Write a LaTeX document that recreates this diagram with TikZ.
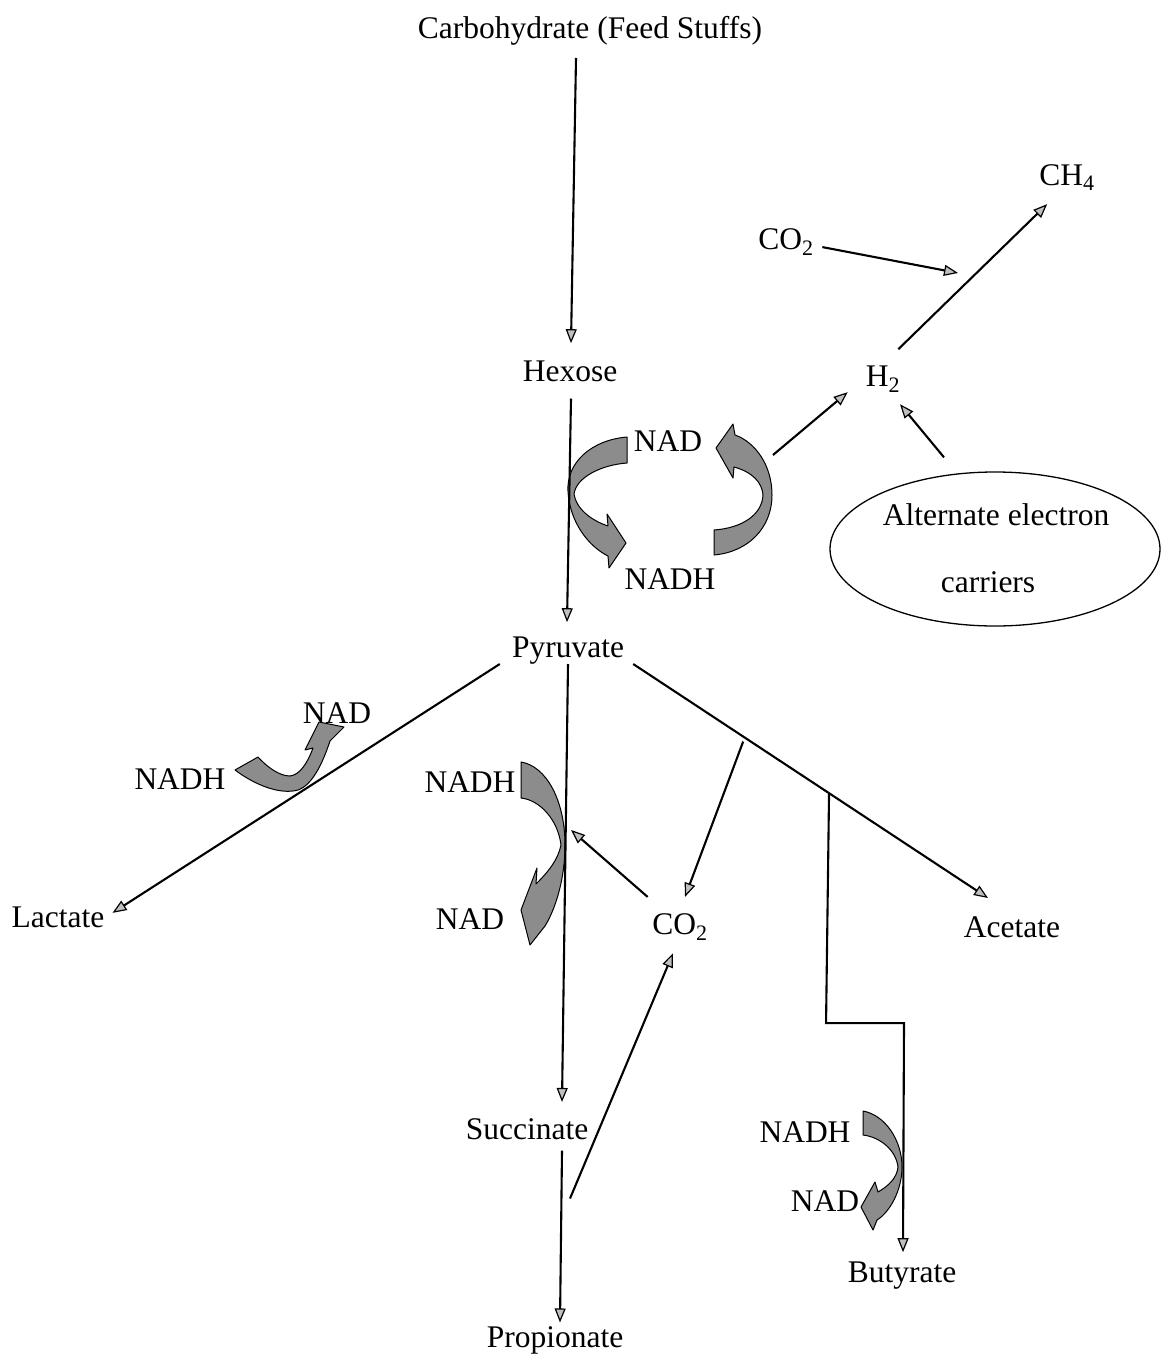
\documentclass[tikz,border=0pt]{standalone}
\usepackage{fontspec}
\setmainfont{Liberation Serif}
\usetikzlibrary{arrows.meta,calc,shapes.geometric}
\definecolor{arrgray}{gray}{0.55}
\definecolor{tipgray}{gray}{0.75}
\begin{document}
\begin{tikzpicture}[x=1pt,y=-1pt,
  lbl/.style={anchor=base,inner sep=0pt,font=\fontsize{31.5}{38}\selectfont},
  conn/.style={line width=2.1pt,-{Triangle[length=14pt,width=11pt,fill=tipgray,line width=1.2pt]}},
  blk/.style={fill=arrgray,draw=black,line width=1pt,line join=round}]
\useasboundingbox (0,0) rectangle (1170,1354);
\fill[white] (0,0) rectangle (1170,1354);

% curved block arrows
\path[blk] (627,437) .. controls (592,440) and (566,462) .. (568,492) .. controls (570,522) and (588,546) .. (608,556) -- (609,568) -- (626,543) -- (607,514) -- (608,526) .. controls (590,520) and (576,508) .. (574,494) .. controls (576,478) and (600,465) .. (627,463) -- cycle;
\path[blk] (714,555) .. controls (748,552) and (772,528) .. (772,495) .. controls (772,465) and (755,442) .. (735,435) -- (733,424) -- (716,448) -- (733,478) -- (734,467) .. controls (752,472) and (762,482) .. (763,495) .. controls (762,515) and (742,528) .. (714,530) -- cycle;
\path[blk] (235,770) .. controls (255,785) and (280,795) .. (298,790) .. controls (312,785) and (322,765) .. (330,741) -- (344,727) -- (319,722) -- (305,750) -- (313,748) .. controls (308,762) and (300,775) .. (290,776) .. controls (280,776) and (268,768) .. (258,757) -- cycle;
\path[blk] (521,762) .. controls (546,766) and (565,800) .. (565,845) .. controls (565,878) and (556,908) .. (545,926) -- (530,945) -- (521,910) -- (537,868) -- (536,884) .. controls (548,872) and (558,860) .. (561,845) .. controls (558,820) and (540,800) .. (521,798) -- cycle;
\path[blk] (863,1111) .. controls (885,1115) and (902,1140) .. (902,1167) .. controls (902,1190) and (890,1212) .. (877,1220) -- (873,1230) -- (861,1207) -- (875,1182) -- (878,1192) .. controls (890,1185) and (897,1177) .. (898,1167) .. controls (896,1150) and (880,1137) .. (863,1135) -- cycle;

% labels
\node[lbl] (carb) at (590,38) {Carbohydrate (Feed Stuffs)};
\node[lbl] (hex) at (570,381) {Hexose};
\node[lbl] (pyr) at (568,657) {Pyruvate};
\node[lbl] (nadA) at (668,451) {NAD};
\node[lbl] (nadhA) at (670,589) {NADH};
\node[lbl] (h2) at (883,386) {H\textsubscript{2}};
\node[lbl] (ch4) at (1067,185) {CH\textsubscript{4}};
\node[lbl] (co2a) at (786,249) {CO\textsubscript{2}};
\node[draw,ellipse,line width=1.3pt,minimum width=330,minimum height=154,inner sep=0pt] (aec) at (995,549) {};
\node[lbl] (alt1) at (996,525) {Alternate electron};
\node[lbl] (alt2) at (988,592) {carriers};
\node[lbl] (lact) at (58,927) {Lactate};
\node[lbl] (nadL) at (337,723) {NAD};
\node[lbl] (nadhL) at (180,789) {NADH};
\node[lbl] (nadhP) at (470,792) {NADH};
\node[lbl] (nadP) at (470,929) {NAD};
\node[lbl] (co2b) at (680,934) {CO\textsubscript{2}};
\node[lbl] (acet) at (1012,937) {Acetate};
\node[lbl] (succ) at (527,1139) {Succinate};
\node[lbl] (prop) at (555,1347) {Propionate};
\node[lbl] (nadhB) at (805,1142) {NADH};
\node[lbl] (nadB) at (825,1211) {NAD};
\node[lbl] (but) at (902,1282) {Butyrate};

% helper coordinates
\coordinate (pa) at ($(pyr.south east)+(9,0)$);
\coordinate (aa) at ($(acet.north)+(-24,-18)$);
\coordinate (br1) at ($(pa)!0.31!(aa)$);
\coordinate (br2) at ($(pa)!0.552!(aa)$);
\coordinate (cyc) at (773,455);
\coordinate (co2tip) at (958,273);

% connectors
\draw[conn] ($(carb.south)+(-14,13)$) -- ($(hex.north)+(1,-17)$);
\draw[conn] ($(hex.south)+(1,17)$) -- ($(pyr.north)+(-1,-14)$);
\draw[conn] ($(pyr.south west)+(-12,0)$) -- ($(lact.east)+(8,-4)$);
\draw[conn] (pyr.south) -- ($(succ.north)+(35,-16)$);
\draw[conn] (pa) -- (aa);
\draw[conn] ($(br1)+(0,5)$) -- ($(co2b.north)+(5,-16)$);
\draw[conn] (br2) -- ($(br2)+(-3,230)$) -- ($(but.north)+(2,-238)$) -- ($(but.north)+(1,-9)$);
\draw[conn] ($(co2b.north west)+(-4.5,-16)$) -- ($(pyr.south)+(3,166)$);
\draw[conn] ($(succ.south)+(43,59)$) -- ($(co2b.south)+(-7,13)$);
\draw[conn] ($(succ.south)+(35,11)$) -- ($(prop.north)+(5,-3.5)$);
\draw[conn] ($(co2a.east)+(8.5,5.5)$) -- (co2tip);
\draw[conn] ($(h2.north east)+(-2,-16)$) -- ($(ch4.south west)+(8,13)$);
\draw[conn] (cyc) -- ($(h2.west)+(-18,13.5)$);
\draw[conn] ($(aec.north)+(-51,-14)$) -- ($(h2.south)+(17,12)$);
\end{tikzpicture}
\end{document}
